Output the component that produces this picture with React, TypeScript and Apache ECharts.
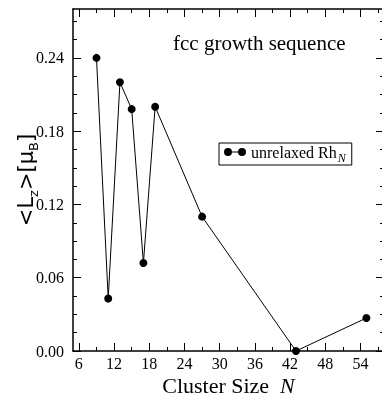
import React, { useEffect, useRef } from "react";
import * as echarts from "echarts";

const clusterSizes = [9, 11, 13, 15, 17, 19, 27, 43, 55];
const lzValues = [0.24, 0.043, 0.22, 0.198, 0.072, 0.2, 0.11, 0.0, 0.027];
const xTickLabels = [6, 12, 18, 24, 30, 36, 42, 48, 54];
const xMinorTicks = [9, 15, 21, 27, 33, 39, 45, 51, 57];
const yTickLabels = [0, 0.06, 0.12, 0.18, 0.24];
const yMinorTicks = [0.015, 0.03, 0.045, 0.075, 0.09, 0.105, 0.135, 0.15, 0.165, 0.195, 0.21, 0.225, 0.255, 0.27];

const SERIF = "Liberation Serif";
const SANS = "DejaVu Sans";
const X_MIN = 5;
const X_MAX = 58;
const Y_MIN = 0;
const Y_MAX = 0.28;

const legendIcon =
  "path://M0,4A4,4 0 1,1 8,4A4,4 0 1,1 0,4Z M14,4A4,4 0 1,1 22,4A4,4 0 1,1 14,4Z M4,3.5 L18,3.5 L18,4.5 L4,4.5Z";

function xAxisDef(position: "top" | "bottom", ticks: number[], len: number, labels: boolean, line: boolean) {
  return {
    type: "value",
    position,
    min: X_MIN,
    max: X_MAX,
    axisLine: { show: line, onZero: false, lineStyle: { color: "#000", width: 1.5 } },
    axisTick: { show: true, inside: true, length: len, customValues: ticks, lineStyle: { color: "#000", width: 1 } },
    axisLabel: labels
      ? { show: true, customValues: ticks, color: "#000", fontFamily: SERIF, fontSize: 16, margin: 4 }
      : { show: false },
    splitLine: { show: false },
  };
}

function yAxisDef(position: "left" | "right", ticks: number[], len: number, labels: boolean, line: boolean) {
  return {
    type: "value",
    position,
    min: Y_MIN,
    max: Y_MAX,
    axisLine: { show: line, onZero: false, lineStyle: { color: "#000", width: 1.5 } },
    axisTick: { show: true, inside: true, length: len, customValues: ticks, lineStyle: { color: "#000", width: 1 } },
    axisLabel: labels
      ? {
          show: true,
          customValues: ticks,
          color: "#000",
          fontFamily: SERIF,
          fontSize: 16,
          margin: 9,
          formatter: (v: number) => v.toFixed(2),
        }
      : { show: false },
    splitLine: { show: false },
  };
}

export default function App() {
  const ref = useRef<HTMLDivElement>(null);
  useEffect(() => {
    if (!ref.current) return;
    const chart = echarts.init(ref.current, null, { renderer: "svg" });
    const xBottom: any = xAxisDef("bottom", xTickLabels, 8, true, true);
    xBottom.name = "{a|Cluster Size  }{b|N}";
    xBottom.nameLocation = "middle";
    xBottom.nameGap = 24;
    xBottom.nameMoveOverlap = false;
    xBottom.nameTextStyle = {
      rich: {
        a: { fontFamily: SERIF, fontSize: 22, color: "#000", lineHeight: 20 },
        b: { fontFamily: SERIF, fontSize: 22, fontStyle: "italic", color: "#000", lineHeight: 20 },
      },
    };
    const yLeft: any = yAxisDef("left", yTickLabels, 8, true, true);
    yLeft.name = "{m|<L}{s|z}{m|>[μ}{s|B}{m|]}";
    yLeft.nameLocation = "middle";
    yLeft.nameGap = 36;
    yLeft.nameMoveOverlap = false;
    yLeft.nameTextStyle = {
      rich: {
        m: { fontFamily: SANS, fontSize: 21, color: "#000", lineHeight: 22, verticalAlign: "top" },
        s: { fontFamily: SANS, fontSize: 13, color: "#000", lineHeight: 13, verticalAlign: "top", padding: [12, 0, 0, 0] },
      },
    };
    chart.setOption({
      animation: false,
      grid: { left: 73, top: 9, right: -2, bottom: 45, containLabel: false, outerBoundsMode: "none" },
      title: {
        text: "fcc growth sequence",
        left: 168,
        top: 27,
        textStyle: { fontFamily: SERIF, fontSize: 21, fontWeight: "normal", color: "#000" },
      },
      legend: {
        left: 219,
        top: 143,
        orient: "horizontal",
        borderColor: "#000",
        borderWidth: 1,
        borderRadius: 0,
        padding: [1, 6, 1, 5],
        itemWidth: 22,
        itemHeight: 8,
        itemGap: 5,
        icon: legendIcon,
        data: [{ name: "unrelaxed", itemStyle: { color: "#000", borderWidth: 0 } }],
        formatter: () => "{t|unrelaxed Rh}{s|N}",
        textStyle: {
          padding: [0, 0, 0, 0],
          rich: {
            t: { fontFamily: SERIF, fontSize: 16, color: "#000", lineHeight: 16, verticalAlign: "top" },
            s: { fontFamily: SERIF, fontSize: 12, fontStyle: "italic", color: "#000", lineHeight: 10, verticalAlign: "top", padding: [8, 0, 0, 1] },
          },
        },
      },
      xAxis: [
        xBottom,
        xAxisDef("top", xTickLabels, 8, false, true),
        xAxisDef("bottom", xMinorTicks, 4, false, false),
        xAxisDef("top", xMinorTicks, 4, false, false),
      ],
      yAxis: [
        yLeft,
        yAxisDef("right", yTickLabels, 8, false, true),
        yAxisDef("left", yMinorTicks, 4, false, false),
        yAxisDef("right", yMinorTicks, 4, false, false),
      ],
      series: [
        {
          name: "unrelaxed",
          type: "line",
          xAxisIndex: 0,
          yAxisIndex: 0,
          data: clusterSizes.map((n, i) => [n, lzValues[i]]),
          symbol: "circle",
          symbolSize: 8,
          clip: false,
          lineStyle: { color: "#000", width: 1 },
          itemStyle: { color: "#000" },
        },
      ],
    });
    return () => chart.dispose();
  }, []);
  return <div ref={ref} style={{ position: "fixed", left: 0, top: 0, width: 382, height: 396 }} />;
}
